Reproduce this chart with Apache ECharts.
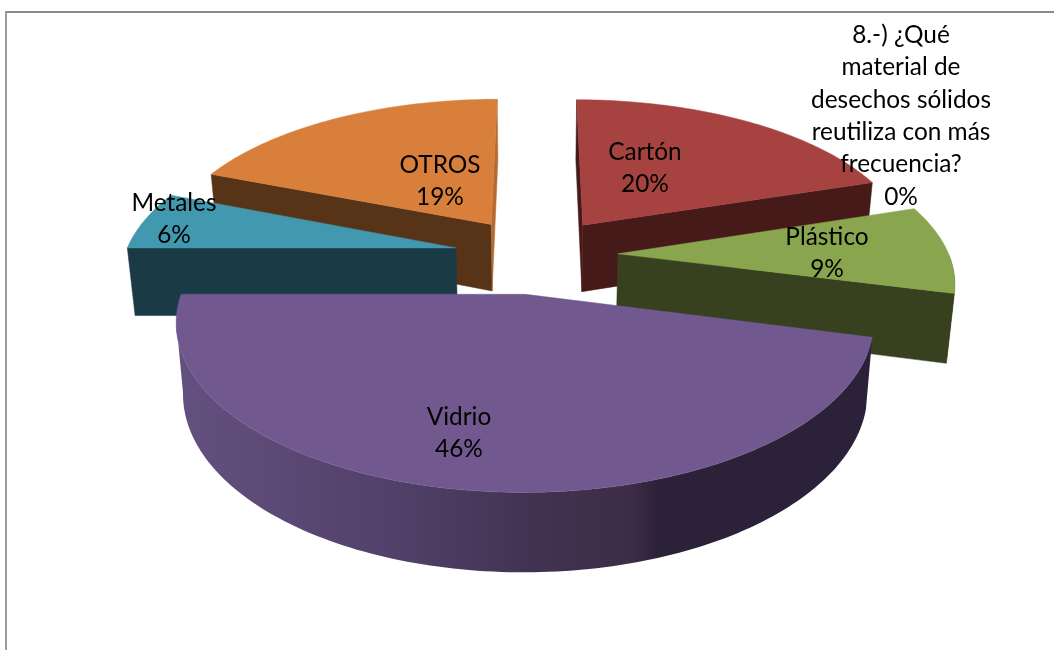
<!DOCTYPE html>
<html>
<head>
<meta charset="utf-8">
<style>html,body{margin:0;padding:0;background:#fff}#c{width:1054px;height:650px}</style>
<script src="https://cdn.jsdelivr.net/npm/echarts@6/dist/echarts.min.js"></script>
</head>
<body>
<div id="c"></div>
<script>
// --- data ---
const categories = ['8.-) ¿Qué\nmaterial de\ndesechos sólidos\nreutiliza con más\nfrecuencia?', 'Cartón', 'Plástico', 'Vidrio', 'Metales', 'OTROS'];
const percentValues = [0, 20, 9, 46, 6, 19];

// --- styling / layout, kept apart from the data ---
const topColors  = ['#4572a7', '#a64340', '#89a54e', '#71588f', '#4198af', '#d87f3c'];
const sideColors = ['#1c2f45', '#451a19', '#37411f', '#2b2138', '#1a3b45', '#573418'];
const edgeColors = ['#1c2f45', '#451a19', '#37411f', '#2b2138', '#1a3b45', '#b56a30'];
const paintOrder = [1, 5, 4, 2, 3, 0];
const labelCenters = [[901, 116], [645, 168], [827, 253], [459, 433], [174, 219], [440, 181]];
const view = { cx: 536, cy: 255, rx: 331, ry: 153.5, persp: 0.156, explode: 0.248, height: 68, taper: 0.019 };

const total = percentValues.reduce((a, b) => a + b, 0);
const starts = [];
percentValues.reduce((acc, v, i) => { starts[i] = acc; return acc + v / total * 2 * Math.PI; }, 0);

function project(i, theta, r, low) {
  const sweep = percentValues[i] / total * 2 * Math.PI;
  const mid = starts[i] + sweep / 2;
  const X = view.explode * Math.sin(mid) + r * Math.sin(theta);
  const Y = view.explode * Math.cos(mid) + r * Math.cos(theta);
  const s = 1 / (1 + view.persp * Y);
  let x = view.cx + view.rx * X * s;
  let y = view.cy - view.ry * Y * s;
  if (low) {
    x = view.cx + (x - view.cx) * (1 - view.taper);
    y = view.cy + (y - view.cy) * (1 - view.taper) + view.height * s;
  }
  return [x, y];
}
function arc(i, t0, t1, low) {
  const n = Math.max(2, Math.ceil(Math.abs(t1 - t0) / 0.02));
  const out = [];
  for (let k = 0; k <= n; k++) out.push(project(i, t0 + (t1 - t0) * k / n, 1, low));
  return out;
}
const vidrioGradient = {
  type: 'linear', global: true, x: 180, y: 0, x2: 870, y2: 0,
  colorStops: [
    { offset: 0, color: '#64507f' }, { offset: 0.3, color: '#52416a' },
    { offset: 0.5, color: '#433353' }, { offset: 0.655, color: '#3c2c45' },
    { offset: 0.695, color: '#2b2138' }, { offset: 1, color: '#2b2138' }
  ]
};

function renderSlice(params, api) {
  const i = api.value(0);
  if (!percentValues[i]) return { type: 'group', children: [] };
  const t0 = starts[i], t1 = t0 + percentValues[i] / total * 2 * Math.PI;
  const apex = project(i, 0, 0), apexLow = project(i, 0, 0, true);
  const midRim = project(i, (t0 + t1) / 2, 1);
  const kids = [];
  [t0, t1].forEach(t => {
    const rim = project(i, t, 1), rimLow = project(i, t, 1, true);
    const dx = rim[0] - apex[0], dy = rim[1] - apex[1];
    const cross = dx * (midRim[1] - apex[1]) - dy * (midRim[0] - apex[0]);
    if (cross * dx < 0) {
      const col = Math.abs(dx) < 30 ? edgeColors[i] : sideColors[i];
      kids.push({ type: 'polygon', shape: { points: [apex, rim, rimLow, apexLow] },
        style: { fill: col, stroke: col, lineWidth: 0.5 } });
    }
  });
  const f0 = Math.max(t0, Math.PI / 2), f1 = Math.min(t1, 1.5 * Math.PI);
  if (f1 > f0) {
    let up = arc(i, f0, f1, false), down = arc(i, f0, f1, true);
    let a = 0, b = 0;
    up.forEach((p, k) => { if (p[0] > up[a][0]) a = k; if (p[0] < up[b][0]) b = k; });
    if (a < b) { up = up.slice(a, b + 1); down = down.slice(a, b + 1); }
    const fill = i === 3 ? vidrioGradient : sideColors[i];
    kids.push({ type: 'polygon', shape: { points: up.concat(down.reverse()) }, style: { fill: fill } });
  }
  const topPts = [apex].concat(arc(i, t0, t1, false));
  kids.push({ type: 'polygon', shape: { points: topPts },
    style: { fill: topColors[i], stroke: topColors[i], lineWidth: 0.5 } });
  return { type: 'group', children: kids };
}
function renderLabel(params, api) {
  const i = api.value(0);
  return {
    type: 'text', x: labelCenters[i][0], y: labelCenters[i][1],
    style: {
      text: categories[i] + '\n' + percentValues[i] + '%',
      fill: '#000', font: '24.4px Lato, "Open Sans", sans-serif',
      lineHeight: 32.4, align: 'center', verticalAlign: 'middle'
    }
  };
}

const chart = echarts.init(document.getElementById('c'), null, { renderer: 'canvas' });
chart.setOption({
  animation: false,
  backgroundColor: '#fff',
  graphic: [
    { type: 'line', silent: true, z: -1, shape: { x1: 5, y1: 12, x2: 1054, y2: 12 },
      style: { stroke: '#8a8a8a', lineWidth: 2 } },
    { type: 'line', silent: true, z: -1, shape: { x1: 6, y1: 11, x2: 6, y2: 650 },
      style: { stroke: '#9c9c9c', lineWidth: 2 } }
  ],
  series: [
    { type: 'custom', coordinateSystem: 'none', silent: true, z: 2,
      data: paintOrder.map(i => [i]), renderItem: renderSlice },
    { type: 'custom', coordinateSystem: 'none', silent: true, z: 3,
      data: categories.map((c, i) => [i]), renderItem: renderLabel }
  ]
});
</script>
</body>
</html>
